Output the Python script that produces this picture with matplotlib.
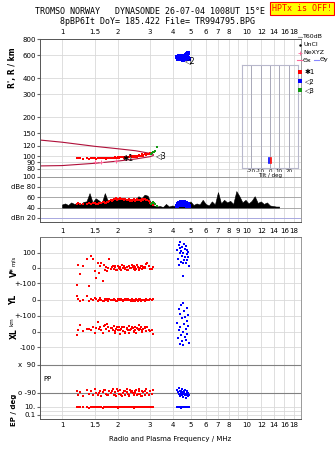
import numpy as np
import matplotlib.pyplot as plt
from matplotlib.lines import Line2D

# ionogram values
freq_ticks = [1, 1.5, 2, 3, 4, 5, 6, 7, 8, 10, 12, 14, 16, 18]
freq_labels = ['1', '1.5', '2', '3', '4', '5', '6', '7', '8', '10', '12', '14', '16', '18']
mid_ticks = [1, 1.5, 2, 3, 4, 5, 6, 7, 8, 9, 10, 12, 14, 16, 18]
mid_labels = ['1', '1.5', '2', '3', '4', '5', '6', '7', '8', '9', '10', '12', '14', '16', '18']
grid_f = [1, 1.5, 2, 3, 4, 5, 6, 7, 8, 9, 10, 12, 14, 16, 18]
height_ticks = [80, 90, 100, 120, 150, 200, 300, 400, 600, 800]

# model profile (dark red curves)
model_f = [0.76, 1.0, 1.5, 2.0, 2.5, 3.0, 3.12]
model_top = [133, 128, 119, 114, 110, 105, 103]
model_bot = [84, 84.5, 88, 91.5, 95, 99, 101]

# NeXYZ points
nexyz_f = [1.5, 1.63, 1.95]
nexyz_h = [90, 90.5, 91]

# echo class 1 (red)
red_f = [1.20, 1.22, 1.25, 1.30, 1.36, 1.40, 1.43, 1.47, 1.50, 1.53,
         1.56, 1.60, 1.63, 1.66, 1.70, 1.73, 1.77, 1.80, 1.84, 1.88,
         1.91, 1.94, 1.97, 2.00, 2.03, 2.06, 2.10, 2.13, 2.17, 2.20,
         2.24, 2.28, 2.32, 2.36, 2.40, 2.44, 2.48, 2.52, 2.56, 2.60,
         2.64, 2.68, 2.72, 2.76, 2.80, 2.85, 2.90, 2.95, 3.00, 3.06,
         3.10,
         1.58, 1.68, 1.75, 1.86, 1.93, 1.99, 2.05, 2.12, 2.19, 2.26,
         2.30, 2.34, 2.42, 2.46, 2.50, 2.58, 2.62, 2.70, 2.74, 2.83]
red_h = [96, 97, 96, 95, 96, 95, 96, 97, 96, 95,
         96, 97, 96, 97, 96, 95, 97, 96, 97, 96,
         97, 98, 97, 98, 97, 98, 99, 98, 97, 98,
         99, 98, 99, 100, 99, 98, 99, 100, 99, 101,
         100, 101, 102, 101, 103, 102, 104, 103, 105, 106,
         107,
         96, 97, 96, 97, 98, 97, 98, 98, 99, 99,
         98, 100, 100, 99, 101, 100, 102, 103, 102, 104]
red_dbe = [47, 48, 46, 47, 46, 48, 47, 49, 48, 46,
           47, 49, 48, 50, 48, 49, 50, 52, 54, 55,
           56, 57, 58, 57, 56, 58, 57, 56, 55, 56,
           55, 54, 56, 55, 53, 54, 55, 54, 56, 55,
           54, 53, 55, 56, 57, 55, 54, 52, 48, 46,
           45,
           48, 50, 51, 53, 57, 55, 58, 56, 57, 54,
           55, 53, 54, 56, 53, 55, 54, 56, 55, 57]
red_v = [-111, 22, -41, 10, 59, -120, 80, 59, -17, -63,
         30, 15, 35, -85, -13, 9, 0, 59, -5, 10,
         -8, 5, -15, 12, -3, 8, -10, 2, 15, -6,
         4, -12, 10, 0, 18, -9, 6, -4, 20, -14,
         3, 12, -7, 8, -2, 25, 30, 13, -5, -9,
         5,
         -30, 20, -20, 5, 15, -10, -5, 18, 3, -16,
         11, -2, 7, 14, -11, 9, -6, 16, -3, 4]
red_yl = [25, 5, -5, 2, 25, -6, 8, -3, 10, 4,
          -4, 12, 0, -8, 6, 3, -5, 9, 2, -3,
          5, 0, -6, 8, 3, -2, 6, -4, 1, 7,
          -3, 4, 0, -6, 5, 2, -4, 7, 0, -2,
          4, -5, 3, 1, -7, 6, -2, 3, 5, 2,
          4,
          3, -4, 6, -2, 1, -5, 4, 0, -3, 5,
          -1, 3, -6, 2, 0, -4, 5, 1, -2, 0]
red_xl = [-21, 14, 47, 5, 17, 19, 10, 30, -5, 25,
          67, 30, 12, -8, 45, 20, 35, 5, 28, 10,
          40, -6, 22, 15, 30, -10, 18, 8, 35, 0,
          25, 12, -8, 20, 30, 5, 15, -4, 28, 10,
          22, 35, 0, 18, 25, 8, 30, 15, 5, 10,
          -15,
          20, 40, 55, 25, 5, 35, 15, 30, -5, 20,
          40, 10, 25, 0, 35, 18, 45, 12, 20, 30]
red_pp = [-75, -100, -85, -110, -70, -95, -80, -105, -65, -90,
          -100, -75, -110, -85, -70, -95, -105, -80, -90, -65,
          -100, -85, -110, -75, -95, -70, -105, -90, -80, -100,
          -65, -95, -110, -85, -75, -100, -90, -70, -105, -80,
          -95, -110, -75, -85, -100, -65, -90, -105, -80, -95,
          -70,
          -90, -70, -105, -80, -100, -65, -95, -110, -75, -85,
          -100, -70, -90, -105, -80, -95, -65, -110, -85, -75]
red_ep = [10, 8, 12, 9, 11, 7, 10, 13, 9, 11,
          8, 12, 10, 7, 11, 9, 13, 10, 8, 12,
          9, 11, 10, 7, 12, 8, 10, 13, 9, 11,
          10, 8, 12, 9, 11, 7, 10, 12, 8, 11,
          9, 10, 13, 8, 11, 9, 12, 10, 8, 11,
          10,
          9, 11, 10, 12, 8, 10, 11, 9, 12, 10,
          8, 11, 9, 10, 12, 9, 11, 10, 8, 10]

# echo class 2 (blue)
blue_f = [4.22, 4.25, 4.28, 4.30, 4.33, 4.35, 4.38, 4.40, 4.42, 4.45,
          4.47, 4.50, 4.52, 4.55, 4.57, 4.60, 4.62, 4.65, 4.68, 4.70,
          4.73, 4.75, 4.78, 4.80, 4.83, 4.86]
blue_h = [580, 565, 590, 570, 585, 560, 575, 595, 565, 580,
          570, 555, 585, 560, 575, 590, 565, 580, 570, 600,
          585, 610, 595, 620, 575, 565]
blue_dbe = [44, 46, 48, 45, 47, 49, 46, 48, 50, 47,
            45, 49, 48, 46, 50, 47, 49, 45, 48, 46,
            47, 45, 44, 46, 45, 44]
blue_v = [120, 60, 150, 20, 130, 95, 170, 40, 110, 80,
          140, 30, -53, 100, 160, 55, 125, 75, 35, 145,
          90, 50, 115, 70, 105, 13]
blue_xl = [60, -40, 150, 10, -80, 120, 30, -20, 175, -60,
           90, 0, 190, -87, 50, 140, -30, 100, 20, -50,
           160, 70, -10, 110, 40, -70]
blue_pp = [-70, -85, -95, -60, -100, -80, -110, -90, -75, -105,
           -65, -95, -85, -115, -90, -80, -100, -70, -120, -95,
           -85, -105, -75, -110, -90, -100]
blue_ep = [10, 12, 8, 11, 9, 13, 10, 7, 12, 9,
           11, 10, 8, 12, 10, 9, 11, 13, 10, 8,
           12, 9, 11, 10, 9, 12]

# echo class 3 (green)
green_f = [3.02, 3.08, 3.12, 3.16, 3.20, 3.26]
green_h = [104, 106, 107, 108, 109, 118]
green_dbe = [46, 49, 50, 48, 47, 44]

# total received amplitude sweep (black)
sweep_db = [46, 48, 45, 50, 47, 49, 46, 51,
            52, 68, 50, 58, 54, 49, 68,
            52, 55, 57, 54, 58, 56, 55, 57, 54, 56,
            62, 58, 65, 63,
            49, 44, 42, 43, 41, 47, 42,
            44, 43, 46, 45, 47, 44, 52,
            45, 48, 46, 55, 47, 44, 52, 46,
            70, 48, 55, 50, 53,
            47, 72, 62,
            50, 55, 48, 53,
            62, 49, 52, 47, 50,
            44, 43, 42, 42]
sweep_f = np.geomspace(1.0, 15.0, len(sweep_db))

# tilt inset
tilt_red_h = [88, 91, 94, 97]
tilt_red = [1, 1, 1, 1]
tilt_blue_h = [89, 92, 95, 97]
tilt_blue = [-1, -1, -1, -1]

RED = '#ff0000'
BLUE = '#0000ff'
GREEN = '#119911'
CURVE = '#b0103a'
PINK = '#ff6699'
GRID = '#d9d9d9'
FS = 5

W, H = 335, 451
fig = plt.figure(figsize=(W / 100, H / 100), dpi=100)


def box(x0, y0, x1, y1):
    return [x0 / W, 1 - y1 / H, (x1 - x0) / W, (y1 - y0) / H]


def vgrid(ax):
    for f in grid_f:
        ax.axvline(f, color=GRID, lw=0.6, zorder=0)


# ---- height panel
ax_h = fig.add_axes(box(40, 39, 301, 172))
ax_h.set_xscale('log')
ax_h.set_yscale('log')
ax_h.set_xlim(0.76, 19.7)
ax_h.set_ylim(75.4, 800)
vgrid(ax_h)
for h in height_ticks:
    ax_h.axhline(h, color=GRID, lw=0.6, zorder=0)
ax_h.plot(model_f, model_top, color=CURVE, lw=0.8)
ax_h.plot(model_f, model_bot, color=CURVE, lw=0.8)
ax_h.plot(red_f, red_h, 's', color=RED, ms=1.7, mew=0)
ax_h.plot(blue_f, blue_h, 's', color=BLUE, ms=2.4, mew=0)
ax_h.plot(green_f, green_h, 's', color=GREEN, ms=1.8, mew=0)
ax_h.plot(nexyz_f, nexyz_h, '+', color=PINK, ms=3, mew=0.7)
ax_h.text(2.12, 95.5, '✱1', fontsize=5.5, va='center')
ax_h.text(4.62, 545, '◁2', fontsize=5.5, va='center')
ax_h.text(3.22, 101, '◁3', fontsize=5.5, va='center')
ax_h.xaxis.tick_top()
ax_h.set_xticks(freq_ticks)
ax_h.set_xticklabels(freq_labels)
ax_h.set_yticks(height_ticks)
ax_h.set_yticklabels([str(h) for h in height_ticks])
ax_h.minorticks_off()
ax_h.tick_params(axis='x', length=0, pad=3, labelsize=FS)
ax_h.tick_params(axis='y', length=2, pad=1, labelsize=FS, color='#666666')
ax_h.spines['bottom'].set_visible(False)
ax_h.spines['top'].set_color('#555555')
ax_h.spines['left'].set_color('#555555')
ax_h.spines['right'].set_color('#999999')
for s in ax_h.spines.values():
    s.set_linewidth(0.7)

# ---- tilt inset
ax_t = fig.add_axes(box(242, 65, 298, 168))
ax_t.patch.set_alpha(0)
ax_t.set_xlim(-30, 30)
ax_t.set_yscale('log')
ax_t.set_ylim(80.8, 504)
for t in [-20, -10, 0, 10, 20]:
    ax_t.axvline(t, color='#a8a8b8', lw=0.7, zorder=0)
ax_t.plot(tilt_red, tilt_red_h, color=RED, lw=1.2)
ax_t.plot(tilt_blue, tilt_blue_h, color=BLUE, lw=1.2)
ax_t.set_xticks([-20, -10, 0, 10, 20])
ax_t.set_xticklabels(['-20', '-10', '0', '10', '20'])
ax_t.set_yticks([])
ax_t.minorticks_off()
ax_t.tick_params(axis='x', length=0, pad=0.5, labelsize=4)
for s in ax_t.spines.values():
    s.set_color('#b8b8cc')
    s.set_linewidth(0.8)
fig.text(270 / W, 1 - 175.5 / H, 'Tilt / deg', fontsize=4, ha='center', va='center')

# ---- amplitude panel
ax_d = fig.add_axes(box(40, 172, 301, 222))
ax_d.set_xscale('log')
ax_d.set_xlim(0.76, 19.7)
ax_d.set_ylim(12, 109)
vgrid(ax_d)
for lev, col in [(100, '#999999'), (80, '#d0d0d0'), (60, '#a8a8a8'), (40, '#a8a8a8'), (20, '#a8a8e0')]:
    ax_d.axhline(lev, color=col, lw=0.7, zorder=0)
ax_d.fill_between(sweep_f, 40, sweep_db, color='black', lw=0.4)
ax_d.plot(red_f, red_dbe, 's', color=RED, ms=2, mew=0)
ax_d.plot(blue_f, blue_dbe, 's', color=BLUE, ms=2.2, mew=0)
ax_d.plot(green_f, green_dbe, 's', color=GREEN, ms=2, mew=0)
ax_d.set_xticks(mid_ticks)
ax_d.set_xticklabels(mid_labels)
ax_d.set_yticks([100, 80, 60, 40, 20])
ax_d.set_yticklabels(['100', 'dBe 80', '60', '40', 'dBn 20'])
ax_d.minorticks_off()
ax_d.tick_params(axis='x', length=0, pad=4, labelsize=FS)
ax_d.tick_params(axis='y', length=2, pad=1, labelsize=FS, color='#666666')
ax_d.spines['top'].set_visible(False)
ax_d.spines['left'].set_color('#555555')
ax_d.spines['bottom'].set_color('#555555')
ax_d.spines['right'].set_color('#999999')
for s in ax_d.spines.values():
    s.set_linewidth(0.7)


# ---- lower panel: bands laid out in pixel rows
def vband(v):
    return 268 - np.asarray(v) * 0.153


def ylband(v):
    return 300 - np.asarray(v) * 0.16


def xlband(v):
    return 332 - np.asarray(v) * 0.153


def ppband(a):
    return 379 - np.asarray(a) * 14 / 90


def epband(e):
    return 411 - 4 * np.log10(e)


ax_l = fig.add_axes(box(40, 237, 301, 419))
ax_l.set_xscale('log')
ax_l.set_xlim(0.76, 19.7)
ax_l.set_ylim(419, 237)
vgrid(ax_l)
low_ticks = [vband(100), vband(0), vband(-100), ylband(0), ylband(-100),
             xlband(0), xlband(-100), ppband(90), ppband(-90), epband(10), epband(0.1)]
low_labels = ['100', '0', '+-100', '0', '+-100', '0', '-100', 'x  90', 'o -90', '10.', '0.1']
for y in low_ticks:
    ax_l.axhline(y, color=GRID, lw=0.6, zorder=0)
ax_l.axhline(ppband(90), color='#808080', lw=0.8, zorder=0)
ax_l.axhline(ppband(-90), color='#808080', lw=0.8, zorder=0)
ax_l.axhline(epband(1), color=GRID, lw=0.6, zorder=0)

ms = 2
ax_l.plot(red_f, vband(red_v), 's', color=RED, ms=ms, mew=0)
ax_l.plot(red_f, ylband(red_yl), 's', color=RED, ms=ms, mew=0)
ax_l.plot(red_f, xlband(red_xl), 's', color=RED, ms=ms, mew=0)
ax_l.plot(red_f, ppband(red_pp), 's', color=RED, ms=ms, mew=0)
ax_l.plot(red_f, epband(red_ep), 's', color=RED, ms=ms, mew=0)
ax_l.plot(blue_f, vband(blue_v), 's', color=BLUE, ms=ms, mew=0)
ax_l.plot(blue_f, xlband(blue_xl), 's', color=BLUE, ms=ms, mew=0)
ax_l.plot(blue_f, ppband(blue_pp), 's', color=BLUE, ms=ms, mew=0)
ax_l.plot(blue_f, epband(blue_ep), 's', color=BLUE, ms=ms, mew=0)

ax_l.set_xticks(freq_ticks)
ax_l.set_xticklabels(freq_labels)
ax_l.set_yticks(low_ticks)
ax_l.set_yticklabels(low_labels)
ax_l.minorticks_off()
ax_l.tick_params(axis='x', length=0, pad=2.5, labelsize=FS)
ax_l.tick_params(axis='y', length=2, pad=1, labelsize=FS, color='#666666')
ax_l.spines['left'].set_color('#555555')
ax_l.spines['bottom'].set_color('#555555')
ax_l.spines['top'].set_color('#777777')
ax_l.spines['right'].set_color('#999999')
for s in ax_l.spines.values():
    s.set_linewidth(0.7)


# ---- texts
def ftext(x, y, s, **kw):
    fig.text(x / W, 1 - y / H, s, **kw)


ftext(35, 12, 'TROMSO NORWAY   DYNASONDE 26-07-04 1008UT 15°E', fontsize=6,
      family='DejaVu Sans Mono', va='center')
ftext(60, 21, '8pBP6It DoY= 185.422 File= TR994795.BPG', fontsize=6,
      family='DejaVu Sans Mono', va='center')
ftext(302, 8.5, 'HPTx is OFF!', fontsize=6, family='DejaVu Sans Mono', color=RED,
      ha='center', va='center',
      bbox=dict(boxstyle='square,pad=0.25', fc='#ffff00', ec=RED, lw=0.8))

ftext(13, 68, "R', R / km", fontsize=5.5, weight='bold', rotation=90, ha='center', va='center')
ftext(14, 272, 'V*', fontsize=5.5, weight='bold', rotation=90, ha='center', va='center')
ftext(14, 261, 'm/s', fontsize=4, rotation=90, ha='center', va='center')
ftext(14, 300, 'YL', fontsize=5.5, weight='bold', rotation=90, ha='center', va='center')
ftext(12, 322, 'km', fontsize=4, rotation=90, ha='center', va='center')
ftext(14, 334, 'XL', fontsize=5.5, weight='bold', rotation=90, ha='center', va='center')
ftext(47, 379, 'PP', fontsize=5, ha='center', va='center')
ftext(14, 410, 'EP / deg', fontsize=5, weight='bold', rotation=90, ha='center', va='center')
ftext(170, 439, 'Radio and Plasma Frequency / MHz', fontsize=5, ha='center', va='center')

# legend at the right
legend_rows = [
    (37, 'line', '#999999', 'T60dB'),
    (45, 'dot', 'black', 'UnCl'),
    (53, 'plus', PINK, 'NeXYZ'),
]
for y, kind, col, lab in legend_rows:
    if kind == 'line':
        fig.add_artist(Line2D([298 / W, 302 / W], [1 - y / H] * 2, color=col, lw=0.8))
    elif kind == 'dot':
        fig.add_artist(Line2D([300 / W], [1 - y / H], marker='.', ms=1.5, color=col))
    else:
        fig.add_artist(Line2D([300 / W], [1 - y / H], marker='+', ms=3, mew=0.6, color=col))
    ftext(303, y, lab, fontsize=4.5, va='center')
fig.add_artist(Line2D([297 / W, 302 / W], [1 - 60 / H] * 2, color=PINK, lw=0.8))
ftext(303, 60, 'Θx', fontsize=4.5, va='center')
fig.add_artist(Line2D([314 / W, 319 / W], [1 - 60 / H] * 2, color='#8888ff', lw=0.8))
ftext(320, 60, 'Θy', fontsize=4.5, va='center')
for y, col, lab in [(72, RED, '✱1'), (81, BLUE, '◁2'), (90, GREEN, '◁3')]:
    fig.add_artist(Line2D([300 / W], [1 - y / H], marker='s', ms=2.2, mew=0, color=col))
    ftext(305, y, lab, fontsize=5, va='center')

fig.savefig('out.png', dpi=100)
